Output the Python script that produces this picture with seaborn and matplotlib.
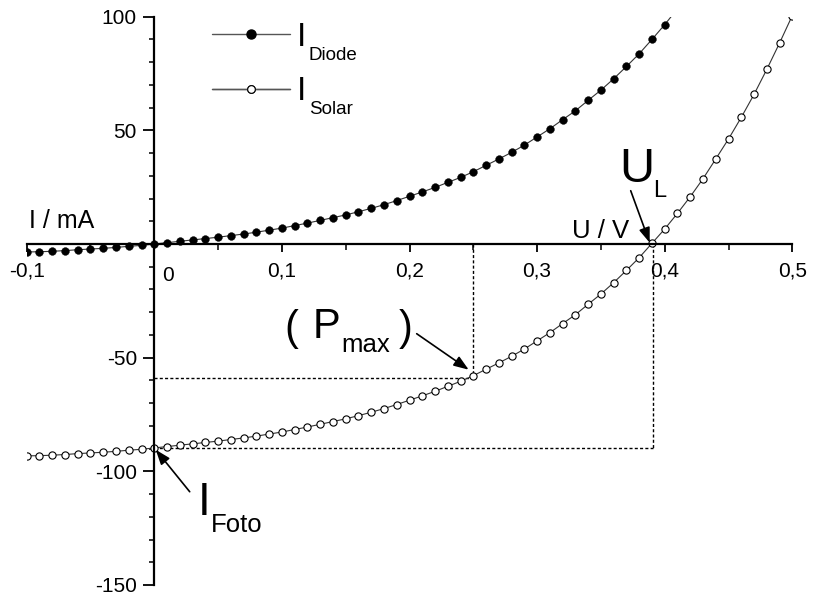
import matplotlib
matplotlib.use('Agg')
import matplotlib.pyplot as plt
import seaborn as sns
import pandas as pd
from matplotlib.ticker import FixedLocator, MultipleLocator, FuncFormatter
from matplotlib.lines import Line2D

# ---------------- data ----------------
U_diode = [-0.10, -0.09, -0.08, -0.07, -0.06, -0.05, -0.04, -0.03, -0.02, -0.01,
           0.00, 0.01, 0.02, 0.03, 0.04, 0.05, 0.06, 0.07, 0.08, 0.09,
           0.10, 0.11, 0.12, 0.13, 0.14, 0.15, 0.16, 0.17, 0.18, 0.19,
           0.20, 0.21, 0.22, 0.23, 0.24, 0.25, 0.26, 0.27, 0.28, 0.29,
           0.30, 0.31, 0.32, 0.33, 0.34, 0.35, 0.36, 0.37, 0.38, 0.39,
           0.40, 0.41]
I_diode = [-3.5, -3.4, -3.2, -2.9, -2.5, -2.2, -1.9, -1.5, -1.0, -0.6,
           0.0, 0.6, 1.2, 1.8, 2.4, 3.0, 3.7, 4.4, 5.2, 6.1,
           7.0, 8.1, 9.2, 10.4, 11.6, 12.8, 14.2, 15.7, 17.3, 19.1,
           21.0, 22.9, 24.9, 27.1, 29.3, 31.8, 34.6, 37.4, 40.3, 43.5,
           47.1, 50.7, 54.7, 58.6, 63.2, 67.7, 72.7, 78.1, 83.7, 90.0,
           96.5, 103.5]

U_solar = [-0.10, -0.09, -0.08, -0.07, -0.06, -0.05, -0.04, -0.03, -0.02, -0.01,
           0.00, 0.01, 0.02, 0.03, 0.04, 0.05, 0.06, 0.07, 0.08, 0.09,
           0.10, 0.11, 0.12, 0.13, 0.14, 0.15, 0.16, 0.17, 0.18, 0.19,
           0.20, 0.21, 0.22, 0.23, 0.24, 0.25, 0.26, 0.27, 0.28, 0.29,
           0.30, 0.31, 0.32, 0.33, 0.34, 0.35, 0.36, 0.37, 0.38, 0.39,
           0.40, 0.41, 0.42, 0.43, 0.44, 0.45, 0.46, 0.47, 0.48, 0.49,
           0.50]
I_solar = [-93.2, -93.1, -92.9, -92.6, -92.2, -91.9, -91.6, -91.2, -90.7, -90.3,
           -89.7, -89.1, -88.5, -87.9, -87.3, -86.7, -86.0, -85.3, -84.5, -83.6,
           -82.7, -81.6, -80.5, -79.3, -78.1, -76.9, -75.5, -74.0, -72.4, -70.6,
           -68.7, -66.8, -64.8, -62.6, -60.4, -57.9, -55.1, -52.3, -49.4, -46.2,
           -42.6, -39.0, -35.0, -31.1, -26.5, -22.0, -17.0, -11.6, -6.0, 0.3,
           6.6, 13.5, 20.8, 28.7, 37.4, 46.2, 55.7, 65.8, 76.8, 88.4,
           100.5]

x_ticks = [-0.1, 0.1, 0.2, 0.3, 0.4, 0.5]
y_ticks = [-150, -100, -50, 50, 100]

U_pmax, I_pmax = 0.25, -58.8     # maximum power point
U_L, I_foto = 0.391, -89.7       # open-circuit voltage, photo current

# ---------------- figure ----------------
sns.set_theme(style='white')
plt.rcParams['font.family'] = ['Liberation Sans', 'DejaVu Sans']

W, H = 814, 595
fig = plt.figure(figsize=(W / 100, H / 100), dpi=100)
ax = fig.add_axes([26.7 / W, 10.0 / H, 765.6 / W, 568.3 / H])
ax.set_facecolor('white')

def px2data(px, py):
    return ((px - 154.6) / 1276.0, (244.3 - py) / 2.2732)

df_d = pd.DataFrame({'U': U_diode, 'I': I_diode})
df_s = pd.DataFrame({'U': U_solar, 'I': I_solar})

sns.lineplot(data=df_d, x='U', y='I', ax=ax, sort=False, color='#333333', lw=0.8,
             marker='o', markersize=5.6, markerfacecolor='black',
             markeredgecolor='black', markeredgewidth=0.3, zorder=4)
sns.lineplot(data=df_s, x='U', y='I', ax=ax, sort=False, color='#333333', lw=0.8,
             marker='o', markersize=5.2, markerfacecolor='white',
             markeredgecolor='black', markeredgewidth=0.8, zorder=4)

ax.set_xlim(-0.1, 0.5)
ax.set_ylim(-150, 100)
ax.set_xlabel('')
ax.set_ylabel('')

# dashed construction lines
dash = dict(color='black', lw=1.0, ls=(0, (2.2, 1.6)), zorder=3)
ax.plot([U_pmax, U_pmax], [0, I_pmax], **dash)
ax.plot([0, U_pmax], [I_pmax, I_pmax], **dash)
ax.plot([U_L, U_L], [0, I_foto], **dash)
ax.plot([0, U_L], [I_foto, I_foto], **dash)

# spines through origin
for s in ['top', 'right']:
    ax.spines[s].set_visible(False)
ax.spines['left'].set_position(('data', 0))
ax.spines['bottom'].set_position(('data', 0))
for s in ['left', 'bottom']:
    ax.spines[s].set_color('black')
    ax.spines[s].set_linewidth(1.6)
    ax.spines[s].set_zorder(5)

ax.xaxis.set_major_locator(FixedLocator(x_ticks))
ax.xaxis.set_minor_locator(MultipleLocator(0.05))
ax.yaxis.set_major_locator(FixedLocator(y_ticks))
ax.yaxis.set_minor_locator(MultipleLocator(10))
ax.xaxis.set_major_formatter(FuncFormatter(lambda v, p: f"{v:.1f}".replace('.', ',')))
ax.yaxis.set_major_formatter(FuncFormatter(lambda v, p: f"{v:.0f}"))

ax.tick_params(axis='x', which='major', direction='out', length=6, width=1.3,
               labelsize=15, pad=6.5, colors='black', bottom=True)
ax.tick_params(axis='x', which='minor', direction='out', length=4, width=1.3, bottom=True)
ax.tick_params(axis='y', which='major', direction='out', length=8, width=1.3,
               labelsize=15, pad=4.5, colors='black', left=True)
ax.tick_params(axis='y', which='minor', direction='out', length=3.8, width=1.3, left=True)
ax.grid(False)

def ftxt(x, y, s, size, **kw):
    fig.text(x / W, 1 - y / H, s, fontsize=size, ha='left', va='baseline',
             color='black', **kw)

# "0" label shifted right of the vertical axis
ftxt(162, 281, '0', 15)

# axis titles
ftxt(29, 228, 'I / mA', 18)
ftxt(572, 238, 'U / V', 18.5)

# legend (two single-entry legends)
h_d = Line2D([], [], color='#555555', lw=1.0, marker='o', markersize=6.5,
             markerfacecolor='black', markeredgecolor='black')
h_s = Line2D([], [], color='#555555', lw=1.0, marker='o', markersize=5.5,
             markerfacecolor='white', markeredgecolor='black', markeredgewidth=0.8)
for h, yy in [(h_d, 35), (h_s, 90)]:
    leg = ax.legend([h], [''], loc='center left', frameon=False,
                    bbox_to_anchor=(212 / W, 1 - yy / H), bbox_transform=fig.transFigure,
                    borderpad=0, borderaxespad=0, handletextpad=0, handlelength=5.6,
                    fontsize=10, numpoints=1)
    ax.add_artist(leg)

ftxt(297, 46, 'I', 24)
ftxt(309, 60, 'Diode', 13.5)
ftxt(297, 100, 'I', 24)
ftxt(309, 114, 'Solar', 13.5)

# annotations
arr = dict(arrowstyle='-|>,head_length=0.6,head_width=0.22', color='black', lw=1.2,
           shrinkA=0, shrinkB=0, mutation_scale=15)
ax.annotate('', xy=px2data(156, 450), xytext=px2data(190, 492), arrowprops=arr, zorder=6)
ax.annotate('', xy=px2data(469, 370), xytext=px2data(417, 334), arrowprops=arr, zorder=6)
ax.annotate('', xy=px2data(650, 243), xytext=px2data(631, 191), arrowprops=arr, zorder=6)

ftxt(198, 515, 'I', 33)
ftxt(211, 532, 'Foto', 18.5)

ftxt(284, 340, '(', 30)
ftxt(313, 338, 'P', 30)
ftxt(341, 352, 'max', 18.5)
ftxt(399, 340, ')', 30)

ftxt(619, 182, 'U', 35)
ftxt(653, 197, 'L', 17)

fig.savefig('out.png', dpi=100, facecolor='white')
